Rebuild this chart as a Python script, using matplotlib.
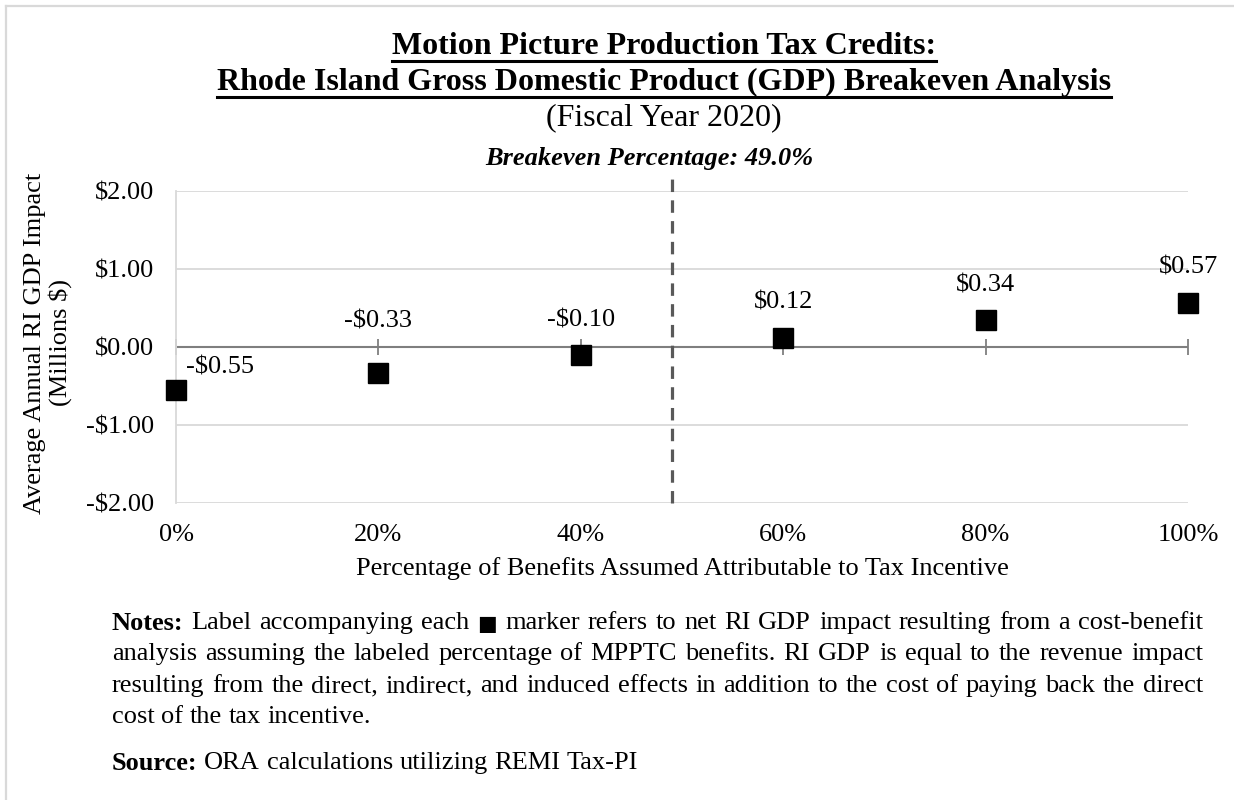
"""Motion picture tax credit breakeven chart (RI GDP impact)."""
import matplotlib
matplotlib.use("Agg")
import matplotlib.pyplot as plt
from matplotlib.lines import Line2D

plt.rcParams["font.family"] = ["Liberation Serif", "DejaVu Serif"]

PCT = [0, 20, 40, 60, 80, 100]
GDP_IMPACT = [-0.55, -0.33, -0.10, 0.12, 0.34, 0.57]
BREAKEVEN = 49.0
YTICKS = [-2, -1, 0, 1, 2]

TITLE_1 = "Motion Picture Production Tax Credits:"
TITLE_2 = "Rhode Island Gross Domestic Product (GDP) Breakeven Analysis"
SUBTITLE = "(Fiscal Year 2020)"
XLABEL = "Percentage of Benefits Assumed Attributable to Tax Incentive"
YLABEL = "Average Annual RI GDP Impact\n(Millions $)"
NOTES = [
    "Label accompanying each \u25a0 marker refers to net RI GDP impact resulting from a cost-benefit",
    "analysis assuming the labeled percentage of MPPTC benefits. RI GDP is equal to the revenue impact",
    "resulting from the direct, indirect, and induced effects in addition to the cost of paying back the direct",
    "cost of the tax incentive.",
]
SOURCE = "ORA calculations utilizing REMI Tax-PI"

# label offsets in points (dx, dy) relative to each marker
LABEL_OFFSETS = [(32, 16), (0, 37), (0, 25), (0, 25), (0, 25), (0, 25)]

W, H = 1234, 800
FS = 19


def fx(px):
    return px / W


def fy(py):
    return 1 - py / H


def money(v):
    return f"-${abs(v):.2f}" if v < 0 else f"${v:.2f}"


def justified(fig, r, words, x0, x1, y, last=False):
    texts = []
    for w, wt in words:
        if w == "\u25a0":
            t = fig.text(0, fy(y + 1), w, fontsize=15, family=["DejaVu Sans"],
                         va="center", ha="left")
        else:
            t = fig.text(0, fy(y), w, fontsize=FS, fontweight=wt, va="center", ha="left")
        texts.append(t)
    widths = [t.get_window_extent(r).width for t in texts]
    if last or len(texts) < 2:
        gap = 0.25 * FS * 100 / 72
    else:
        gap = (x1 - x0 - sum(widths)) / (len(texts) - 1)
    x = x0
    for t, w in zip(texts, widths):
        t.set_x(fx(x))
        x += w + gap


def main():
    fig = plt.figure(figsize=(W / 100, H / 100), dpi=100)
    ax = fig.add_axes([fx(176), fy(503), fx(1188) - fx(176), fy(191) - fy(503)])

    ax.set_xlim(0, 100)
    ax.set_ylim(-2, 2)
    ax.set_yticks(YTICKS)
    ax.set_yticklabels([money(v) for v in YTICKS], fontsize=FS)
    ax.set_xticks(PCT)
    ax.set_xticklabels([f"{p}%" for p in PCT], fontsize=FS)
    ax.tick_params(axis="both", length=0)
    ax.tick_params(axis="y", pad=16)
    ax.tick_params(axis="x", pad=15)
    ax.grid(axis="y", color="#d9d9d9", linewidth=1.3)
    ax.set_axisbelow(True)
    for s in ["top", "right", "bottom"]:
        ax.spines[s].set_visible(False)
    ax.spines["left"].set_color("#d9d9d9")
    ax.spines["left"].set_linewidth(1.3)

    # zero axis with crossing tick marks
    ax.axhline(0, color="#7f7f7f", linewidth=1.5, zorder=2)
    ax.plot(PCT, [0] * len(PCT), linestyle="none", marker="|", markersize=12,
            markeredgewidth=1.3, color="#7f7f7f", clip_on=False, zorder=2)

    # breakeven line
    ax.plot([BREAKEVEN, BREAKEVEN], [-2, 2.17], color="#595959", linewidth=2.3,
            dashes=(3.9, 2.6), clip_on=False, zorder=3)

    ax.plot(PCT, GDP_IMPACT, linestyle="none", marker="s", markersize=15,
            color="black", clip_on=False, zorder=4)
    for p, v, (dx, dy) in zip(PCT, GDP_IMPACT, LABEL_OFFSETS):
        ax.annotate(money(v), (p, v), xytext=(dx, dy), textcoords="offset points",
                    ha="center", va="center", fontsize=FS)

    fig.text(fx(682), fy(569), XLABEL, ha="center", va="center", fontsize=FS)
    fig.text(fx(48), fy(343), YLABEL, ha="center", va="center", fontsize=FS,
             rotation=90, multialignment="center", linespacing=1.1)

    # titles
    r = fig.canvas.get_renderer()
    for txt, y, uy in [(TITLE_1, 47, 61), (TITLE_2, 82, 97)]:
        t = fig.text(fx(664), fy(y), txt, ha="center", va="center", fontsize=23,
                     fontweight="bold")
        bb = t.get_window_extent(r)
        fig.add_artist(Line2D([bb.x0 / W, bb.x1 / W], [fy(uy), fy(uy)], color="black",
                              linewidth=2.2))
    fig.text(fx(664), fy(118), SUBTITLE, ha="center", va="center", fontsize=23)
    fig.text(fx(649), fy(158), f"Breakeven Percentage: {BREAKEVEN:.1f}%", ha="center",
             va="center", fontsize=FS, fontweight="bold", fontstyle="italic")

    # notes block, justified like the source document
    note_y = [623, 654, 686, 717]
    for i, (line, y) in enumerate(zip(NOTES, note_y)):
        words = [(w, "normal") for w in line.split(" ")]
        if i == 0:
            words = [("Notes:", "bold")] + words
        justified(fig, r, words, 112, 1203, y, last=(i == len(NOTES) - 1))
    justified(fig, r, [("Source:", "bold")] + [(w, "normal") for w in SOURCE.split(" ")],
              112, 1203, 763, last=True)

    # frame edge (top + left only, as cropped)
    fig.add_artist(Line2D([fx(6), 1], [fy(6), fy(6)], color="#d9d9d9", linewidth=1.6))
    fig.add_artist(Line2D([fx(6), fx(6)], [fy(6), 0], color="#d9d9d9", linewidth=1.6))

    fig.savefig("out.png", dpi=100)
    plt.close(fig)


if __name__ == "__main__":
    main()
